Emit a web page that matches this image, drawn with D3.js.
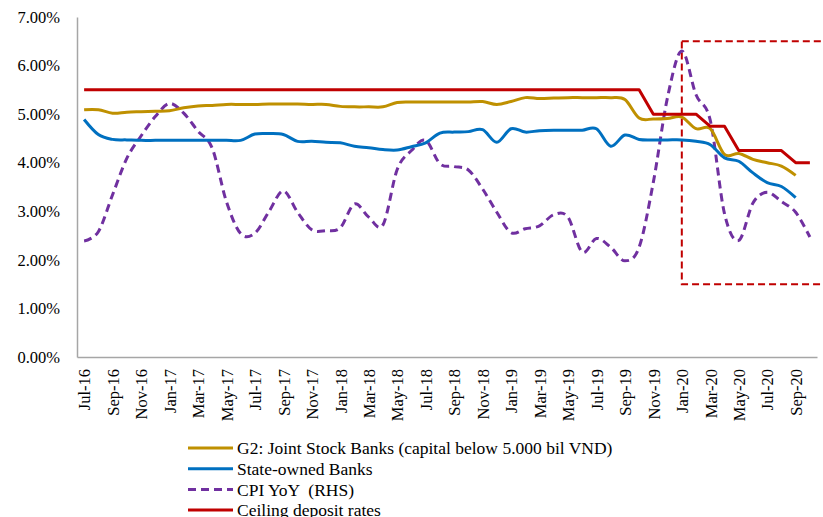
<!DOCTYPE html>
<html>
<head>
<meta charset="utf-8">
<script src="https://cdn.jsdelivr.net/npm/d3@7"></script>
<style>
  html, body { margin: 0; padding: 0; background: #fff; }
  svg { display: block; font-family: "Liberation Serif", "Times New Roman", serif; }
</style>
</head>
<body>
<svg id="chart" width="823" height="517"></svg>
<script>
// Monthly categories, Jul-16 .. Oct-20
const months = [
  "Jul-16","Aug-16","Sep-16","Oct-16","Nov-16","Dec-16",
  "Jan-17","Feb-17","Mar-17","Apr-17","May-17","Jun-17","Jul-17","Aug-17","Sep-17","Oct-17","Nov-17","Dec-17",
  "Jan-18","Feb-18","Mar-18","Apr-18","May-18","Jun-18","Jul-18","Aug-18","Sep-18","Oct-18","Nov-18","Dec-18",
  "Jan-19","Feb-19","Mar-19","Apr-19","May-19","Jun-19","Jul-19","Aug-19","Sep-19","Oct-19","Nov-19","Dec-19",
  "Jan-20","Feb-20","Mar-20","Apr-20","May-20","Jun-20","Jul-20","Aug-20","Sep-20","Oct-20"
];

// Every second month is labelled on the axis
const tickLabels = months.filter((m, i) => i % 2 === 0);

const yTicks = [0, 1, 2, 3, 4, 5, 6, 7];

// G2: Joint Stock Banks (capital below 5.000 bil VND), % (Jul-16 .. Sep-20)
const g2Rates = [
  5.09, 5.09, 5.02, 5.04, 5.05, 5.06, 5.07, 5.13, 5.17, 5.18, 5.20, 5.20, 5.20,
  5.21, 5.21, 5.21, 5.20, 5.20, 5.16, 5.15, 5.15, 5.15, 5.24, 5.25, 5.25, 5.25,
  5.25, 5.25, 5.26, 5.20, 5.26, 5.34, 5.32, 5.33, 5.34, 5.34, 5.34, 5.34, 5.30,
  4.92, 4.90, 4.91, 4.94, 4.70, 4.70, 4.17, 4.19, 4.07, 4.00, 3.93, 3.74
];

// State-owned Banks, % (Jul-16 .. Sep-20)
const stateRates = [
  4.89, 4.58, 4.48, 4.47, 4.46, 4.46, 4.46, 4.46, 4.46, 4.46, 4.46, 4.46, 4.59,
  4.60, 4.58, 4.44, 4.44, 4.42, 4.41, 4.34, 4.31, 4.27, 4.26, 4.33, 4.41, 4.61,
  4.63, 4.64, 4.68, 4.42, 4.70, 4.63, 4.66, 4.67, 4.67, 4.67, 4.70, 4.34, 4.57,
  4.48, 4.47, 4.47, 4.47, 4.44, 4.37, 4.10, 4.03, 3.79, 3.59, 3.51, 3.28
];

// CPI year-on-year, % (Jul-16 .. Oct-20)
const cpiYoY = [
  2.39, 2.58, 3.34, 4.09, 4.55, 4.95, 5.22, 5.02, 4.65, 4.30, 3.20, 2.54, 2.55,
  3.00, 3.42, 2.98, 2.62, 2.60, 2.66, 3.15, 2.88, 2.72, 3.86, 4.25, 4.46, 3.98,
  3.92, 3.85, 3.46, 2.98, 2.56, 2.64, 2.70, 2.93, 2.88, 2.16, 2.44, 2.26, 1.98,
  2.26, 3.60, 5.35, 6.30, 5.40, 4.87, 2.95, 2.40, 3.17, 3.39, 3.20, 2.98, 2.47
];

// Ceiling deposit rates, % (Jul-16 .. Oct-20)
const ceilingRates = [
  5.5, 5.5, 5.5, 5.5, 5.5, 5.5, 5.5, 5.5, 5.5, 5.5, 5.5, 5.5, 5.5,
  5.5, 5.5, 5.5, 5.5, 5.5, 5.5, 5.5, 5.5, 5.5, 5.5, 5.5, 5.5, 5.5,
  5.5, 5.5, 5.5, 5.5, 5.5, 5.5, 5.5, 5.5, 5.5, 5.5, 5.5, 5.5, 5.5,
  5.5, 5.0, 5.0, 5.0, 5.0, 4.75, 4.75, 4.25, 4.25, 4.25, 4.25, 4.0, 4.0
];

// Highlighted period box: starts at Jan-20, spans 1.5% .. 6.5%
const highlightStart = "Jan-20";
const highlightRange = [1.5, 6.5];

const legendLabels = [
  "G2: Joint Stock Banks (capital below 5.000 bil VND)",
  "State-owned Banks",
  "CPI YoY  (RHS)",
  "Ceiling deposit rates"
];

const svg = d3.select("#chart");
const W = 823, H = 517;
const plot = { left: 77, right: 817, top: 17, bottom: 357 };
const serif = "'Liberation Serif', 'Times New Roman', serif";

const x = d3.scalePoint().domain(months).range([plot.left, plot.right]).padding(0.5);
const y = d3.scaleLinear().domain([0, 7]).range([plot.bottom, plot.top]);

const smooth = d3.curveCatmullRom.alpha(0);

const series = [
  { name: legendLabels[0], values: g2Rates, color: "#BF9000", width: 3, dash: null, curve: smooth },
  { name: legendLabels[1], values: stateRates, color: "#0070C0", width: 3, dash: null, curve: smooth },
  { name: legendLabels[2], values: cpiYoY, color: "#7030A0", width: 3, dash: "8,5", curve: smooth },
  { name: legendLabels[3], values: ceilingRates, color: "#C00000", width: 3, dash: null, curve: d3.curveLinear }
];

// Axes
const yAxis = d3.axisLeft(y)
  .tickValues(yTicks)
  .tickFormat(d => d3.format(".2f")(d) + "%")
  .tickSize(0)
  .tickPadding(17);

const gy = svg.append("g")
  .attr("transform", `translate(${plot.left},0)`)
  .call(yAxis);
gy.select(".domain").attr("stroke", "#a6a6a6").attr("stroke-width", 1.5);
gy.selectAll("text").attr("font-size", 16.5).attr("fill", "#000")
  .attr("font-family", serif);

const xAxis = d3.axisBottom(x)
  .tickValues(tickLabels)
  .tickSize(0)
  .tickSizeOuter(0);

const gx = svg.append("g")
  .attr("transform", `translate(0,${plot.bottom})`)
  .call(xAxis);
gx.select(".domain").attr("stroke", "#a6a6a6").attr("stroke-width", 1.5);
gx.selectAll("text")
  .attr("font-size", 16.5)
  .attr("fill", "#000")
  .attr("font-family", serif)
  .attr("transform", "rotate(-90)")
  .attr("text-anchor", "end")
  .attr("x", -12)
  .attr("y", 0)
  .attr("dy", "0.35em");

// Highlight box
svg.append("rect")
  .attr("x", x(highlightStart))
  .attr("y", y(highlightRange[1]))
  .attr("width", W + 10 - x(highlightStart))
  .attr("height", y(highlightRange[0]) - y(highlightRange[1]))
  .attr("fill", "none")
  .attr("stroke", "#C00000")
  .attr("stroke-width", 2)
  .attr("stroke-dasharray", "7,4");

// Series lines (CPI drawn first so bank rates sit on top)
const drawOrder = [2, 0, 1, 3];
drawOrder.forEach(k => {
  const s = series[k];
  const line = d3.line()
    .x((d, i) => x(months[i]))
    .y(d => y(d))
    .curve(s.curve);
  svg.append("path")
    .datum(s.values)
    .attr("d", line)
    .attr("fill", "none")
    .attr("stroke", s.color)
    .attr("stroke-width", s.width)
    .attr("stroke-dasharray", s.dash)
    .attr("stroke-linejoin", "round");
});

// Legend
const legend = svg.append("g").attr("transform", "translate(188,448)");
series.forEach((s, i) => {
  const row = legend.append("g").attr("transform", `translate(0,${i * 20.7})`);
  row.append("line")
    .attr("x1", 0).attr("x2", 45).attr("y1", 0).attr("y2", 0)
    .attr("stroke", s.color)
    .attr("stroke-width", 3)
    .attr("stroke-dasharray", s.dash);
  row.append("text")
    .attr("x", 49).attr("y", 0).attr("dy", "0.35em")
    .attr("font-size", 17.5)
    .attr("fill", "#000")
    .style("white-space", "pre")
    .text(s.name);
});
</script>
</body>
</html>
